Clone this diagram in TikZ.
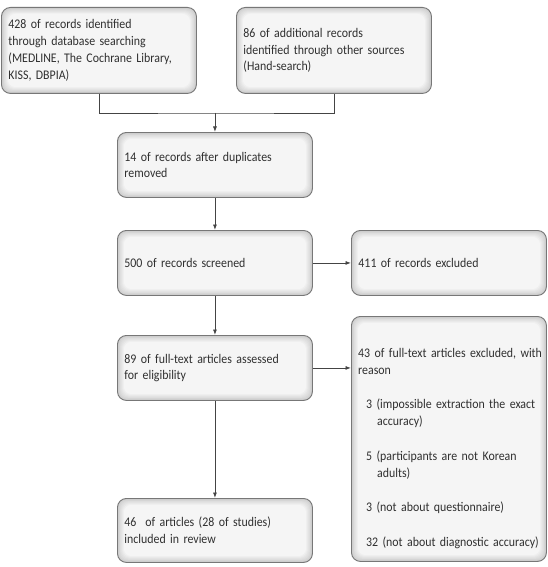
\documentclass[tikz,border=0pt]{standalone}
\usepackage{fontspec}
\setmainfont{Carlito}[FakeStretch=0.9]
\usetikzlibrary{arrows.meta,calc}
\definecolor{txt}{HTML}{303030}
\definecolor{edge}{HTML}{777777}
\definecolor{lin}{HTML}{444444}
\tikzset{
  box/.style={draw=edge, line width=0.9pt, rounded corners=9pt, fill=black!21!white,
    anchor=north west, inner xsep=7pt, inner ysep=0pt, text width=181pt,
    align=left, text=txt, font=\fontsize{13.2}{16.8}\selectfont,
    path picture={
      \foreach \i in {1,...,7}{
        \pgfmathsetmacro\pc{20-2.3*\i}
        \fill[black!\pc!white, rounded corners=8pt]
          ($(path picture bounding box.south west)+(\i*0.9pt,\i*0.9pt)$) rectangle
          ($(path picture bounding box.north east)+(-\i*0.9pt,-\i*0.9pt)$);
      }
    }},
  boxtext/.style={anchor=north west, inner sep=0pt, text width=186pt, align=left,
    text=txt, font=\fontsize{13.2}{17.2}\selectfont},
  conn/.style={draw=lin, line width=0.8pt},
  arr/.style={conn, -{Latex[length=5.5pt,width=4pt]}}
}
\begin{document}
\begin{tikzpicture}[x=1pt,y=-1pt]
\fill[white] (0,0) rectangle (548,567);
\useasboundingbox (0,0) rectangle (548,567);

\node[box, minimum height=86pt] (b1) at (1,7)
  {428 of records identified\\through database searching\\(MEDLINE, The Cochrane Library,\\KISS, DBPIA)};
\node[box, minimum height=86pt] (b2) at (236,7)
  {86 of additional records\\identified through other sources\\(Hand-search)};
\node[box, minimum height=65pt] (b3) at (117,132)
  {14 of records after duplicates\\removed};
\node[box, minimum height=65pt] (b4) at (117,230)
  {500 of records screened};
\node[box, minimum height=65pt] (b5) at (351,230)
  {411 of records excluded};
\node[box, minimum height=65pt] (b6) at (117,335)
  {89 of full-text articles assessed\\for eligibility};
\node[box, minimum height=245pt] (b7) at (351,316) {};
\node[box, minimum height=64pt] (b8) at (117,498)
  {46~ of articles (28 of studies)\\included in review};

\node[boxtext] (b7t) at (358,348)
  {43 of full-text articles excluded, with\\reason\\[17pt]
   \hspace*{8pt}3 (impossible extraction the exact\\\hspace*{19pt}accuracy)\\[17pt]
   \hspace*{8pt}5 (participants are not Korean\\\hspace*{19pt}adults)\\[17pt]
   \hspace*{8pt}3 (not about questionnaire)\\[18pt]
   \hspace*{8pt}32 (not about diagnostic accuracy)};

\coordinate (j) at (b3.north |- 0,113);
\draw[conn] (b1.south) |- (j) -| (b2.south);
\draw[arr] (j) -- (b3.north);
\draw[arr] (b3.south) -- (b4.north);
\draw[arr] (b4.east) -- (b5.west);
\draw[arr] (b4.south) -- (b6.north);
\draw[arr] (b6.east) -- (b6.east -| b7.west);
\draw[arr] (b6.south) -- (b8.north);
\end{tikzpicture}
\end{document}
